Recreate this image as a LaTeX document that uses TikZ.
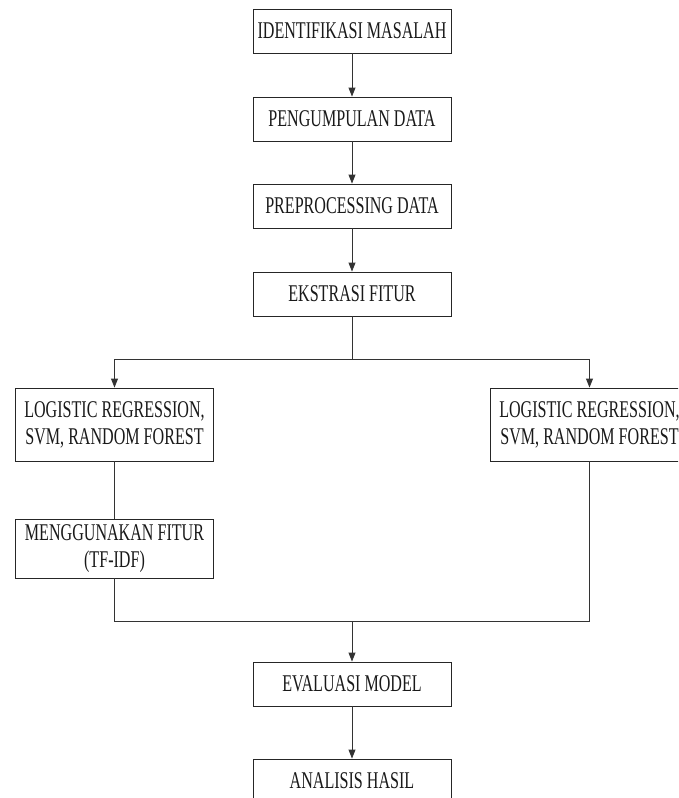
\documentclass[tikz,border=0pt]{standalone}
\usepackage{fontspec}
\setmainfont{Liberation Serif}[FakeStretch=0.67]
\usetikzlibrary{arrows.meta}
\begin{document}
\begin{tikzpicture}[x=1pt,y=-1pt,
  box/.style={draw=black!85, line width=0.9pt, minimum width=198pt, inner sep=0pt,
    align=center, font=\fontsize{24}{27}\selectfont, text=black!90},
  one/.style={box, minimum height=44pt},
  two/.style={box, minimum height=73pt},
  link/.style={draw=black!80, line width=0.9pt},
  arr/.style={link, -{Triangle[length=9pt,width=7pt]}}]
\useasboundingbox (0,0) rectangle (678,798);
\clip (0,0) rectangle (678,798);
\node[one] (b1) at (352,31) {IDENTIFIKASI MASALAH};
\node[one] (b2) at (352,119) {PENGUMPULAN DATA};
\node[one] (b3) at (352,206) {PREPROCESSING DATA};
\node[one] (b4) at (352,294) {EKSTRASI FITUR};
\node[two] (lr) at (114.5,424.5) {LOGISTIC REGRESSION,\\SVM, RANDOM FOREST};
\node[two] (rr) at (589.5,424.5) {LOGISTIC REGRESSION,\\SVM, RANDOM FOREST};
\node[box, minimum height=59pt] (tf) at (114.5,548.5) {MENGGUNAKAN FITUR\\(TF-IDF)};
\node[one] (ev) at (352,684) {EVALUASI MODEL};
\node[one] (an) at (352,781) {ANALISIS HASIL};
\coordinate (split) at (352,359);
\coordinate (merge) at (352,621);
\draw[arr] (b1) -- (b2);
\draw[arr] (b2) -- (b3);
\draw[arr] (b3) -- (b4);
\draw[link] (b4) -- (split);
\draw[arr] (split) -| (lr);
\draw[arr] (split) -| (rr);
\draw[link] (lr) -- (tf);
\draw[link] (tf) |- (merge);
\draw[link] (rr) |- (merge);
\draw[arr] (merge) -- (ev);
\draw[arr] (ev) -- (an);
\end{tikzpicture}
\end{document}
